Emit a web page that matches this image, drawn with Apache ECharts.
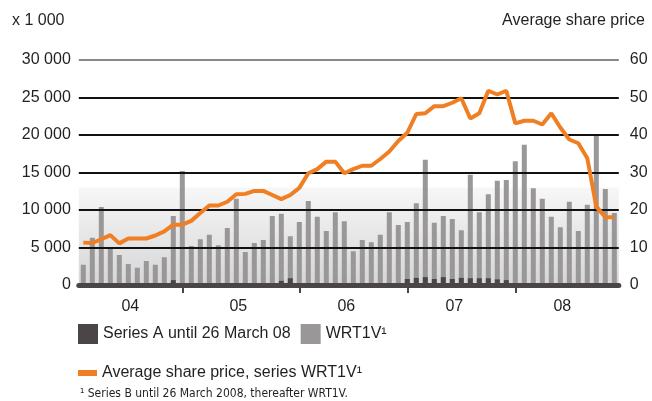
<!DOCTYPE html>
<html>
<head>
<meta charset="utf-8">
<script src="https://cdn.jsdelivr.net/npm/echarts@6/dist/echarts.min.js"></script>
<style>html,body{margin:0;padding:0;background:#fff}#c{width:652px;height:401px}</style>
</head>
<body>
<div id="c"></div>
<script>
// ---- data ----
var categories = [];
['04','05','06','07','08'].forEach(function (y) {
  ['01','02','03','04','05','06','07','08','09','10','11','12'].forEach(function (m) { categories.push(m + '/' + y); });
});
var yearLabels = ['04', '05', '06', '07', '08'];
var yearLabelIndex = [5, 17, 29, 41, 53];
var yearTickIndex = [11, 24, 36, 48];
var leftTickLabels = ['0', '5 000', '10 000', '15 000', '20 000', '25 000', '30 000'];
var rightTickLabels = ['0', '10', '20', '30', '40', '50', '60'];

var wrt1v = [2700, 6300, 10400, 4800, 4000, 2800, 2300, 3200, 2700, 3700, 9200, 15200,
  5200, 6100, 6700, 5300, 7600, 11500, 4400, 5600, 6000, 9200, 9500, 6500,
  8400, 11200, 9100, 7200, 9700, 8500, 4500, 6000, 5700, 6700, 9700, 8000,
  8400, 10900, 16700, 8300, 9200, 8800, 7300, 14700, 9700, 12100, 13900, 14000,
  16500, 18700, 12900, 11500, 9100, 7700, 11100, 7200, 10700, 19900, 12800, 9600];
var seriesA = [0, 0, 0, 0, 0, 0, 0, 0, 0, 0, 650, 0,
  0, 0, 0, 0, 0, 0, 0, 0, 0, 0, 550, 900,
  0, 0, 0, 0, 0, 0, 0, 0, 0, 0, 0, 0,
  800, 950, 1050, 800, 1050, 800, 950, 900, 900, 900, 750, 650,
  0, 0, 0, 0, 0, 0, 0, 0, 0, 0, 0, 0];
var sharePrice = [11.3, 11.2, 12.2, 13.3, 11.1, 12.4, 12.4, 12.4, 13.2, 14.3, 16.1, 16.1,
  17.1, 19.2, 21.2, 21.2, 22.2, 24.2, 24.3, 25.1, 25.1, 24.0, 22.9, 24.0,
  25.9, 29.8, 30.9, 32.9, 32.9, 29.8, 30.9, 31.8, 31.8, 33.6, 35.6, 38.4,
  40.6, 45.6, 45.8, 47.7, 47.7, 48.6, 49.8, 44.4, 45.8, 51.8, 50.8, 51.8,
  43.1, 43.8, 43.8, 42.8, 45.8, 42.0, 38.8, 37.8, 33.8, 20.9, 18.1, 18.1];

var FONT = 'Liberation Sans, Arial, sans-serif';
var NARROW = 'Liberation Sans Narrow, Arial Narrow, DejaVu Sans Condensed, sans-serif';
var TXT = '#231f20';
var chart = echarts.init(document.getElementById('c'), null, { renderer: 'canvas' });
chart.setOption({
  animation: false,
  textStyle: { fontFamily: FONT },
  title: [
    { text: 'x 1 000', left: 12, top: 13, padding: 0, textStyle: { fontSize: 16, fontWeight: 'normal', color: TXT, fontFamily: FONT } },
    { text: 'Average share price', right: 7, top: 13, padding: 0, textStyle: { fontSize: 16, fontWeight: 'normal', color: TXT, fontFamily: FONT } },
    { text: '¹ Series B until 26 March 2008, thereafter WRT1V.', left: 80, top: 388, padding: 0, textStyle: { fontSize: 12, fontWeight: 'normal', color: TXT, fontFamily: NARROW } }
  ],
  legend: [
    { data: ['Series A until 26 March 08', 'WRT1V¹'], left: 78, top: 324, padding: 0, icon: 'rect', itemWidth: 20, itemHeight: 20, itemGap: 10,
      textStyle: { fontSize: 16, color: TXT, fontFamily: FONT } },
    { data: ['Average share price, series WRT1V¹'], left: 78, top: 365, padding: 0, icon: 'rect', itemWidth: 19, itemHeight: 6,
      textStyle: { fontSize: 16, color: TXT, fontFamily: FONT } }
  ],
  grid: { left: 78.8, right: 33.2, top: 60, bottom: 116, containLabel: false },
  xAxis: {
    type: 'category', data: categories, boundaryGap: true, z: 4,
    axisLine: { lineStyle: { color: '#4a4647', width: 5 } },
    axisTick: { show: true, alignWithLabel: true, length: 8, interval: function (i) { return yearTickIndex.indexOf(i) >= 0; },
      lineStyle: { color: '#4a4647', width: 2 } },
    axisLabel: { interval: function (i) { return yearLabelIndex.indexOf(i) >= 0; }, margin: 14, fontSize: 16, color: TXT, padding: [0, 0, 0, 4],
      formatter: function (v, i) { var k = yearLabelIndex.indexOf(i); return k >= 0 ? yearLabels[k] : ''; } },
    splitLine: { show: false }
  },
  yAxis: [
    { type: 'value', min: 0, max: 30000, interval: 5000, z: 3,
      axisLine: { show: false }, axisTick: { show: false },
      axisLabel: { margin: 8, fontSize: 16, color: TXT, formatter: function (v) { return leftTickLabels[Math.round(v / 5000)]; } },
      splitLine: { show: true, lineStyle: { color: ['#111', '#111', '#111', '#111', '#111', '#111', '#888'], width: 2 } } },
    { type: 'value', min: 0, max: 60, interval: 10,
      axisLine: { show: false }, axisTick: { show: false }, splitLine: { show: false },
      axisLabel: { margin: 11, fontSize: 16, color: TXT, formatter: function (v) { return rightTickLabels[Math.round(v / 10)]; } } }
  ],
  series: [
    { name: 'WRT1V¹', type: 'bar', data: wrt1v, barWidth: 5, z: 2, itemStyle: { color: '#999797' },
      markArea: { silent: true, itemStyle: { color: { type: 'linear', x: 0, y: 0, x2: 0, y2: 1,
        colorStops: [{ offset: 0, color: '#f7f7f7' }, { offset: 1, color: '#d6d6d8' }] } },
        data: [[{ yAxis: 13000 }, { yAxis: 0 }]] } },
    { name: 'Series A until 26 March 08', type: 'bar', data: seriesA, barWidth: 5, barGap: '-100%', z: 2, itemStyle: { color: '#4a4647' } },
    { name: 'Average share price, series WRT1V¹', type: 'line', yAxisIndex: 1, data: sharePrice, z: 6, symbol: 'none',
      lineStyle: { color: '#ef7f22', width: 4 }, itemStyle: { color: '#ef7f22' } }
  ]
});
</script>
</body>
</html>
